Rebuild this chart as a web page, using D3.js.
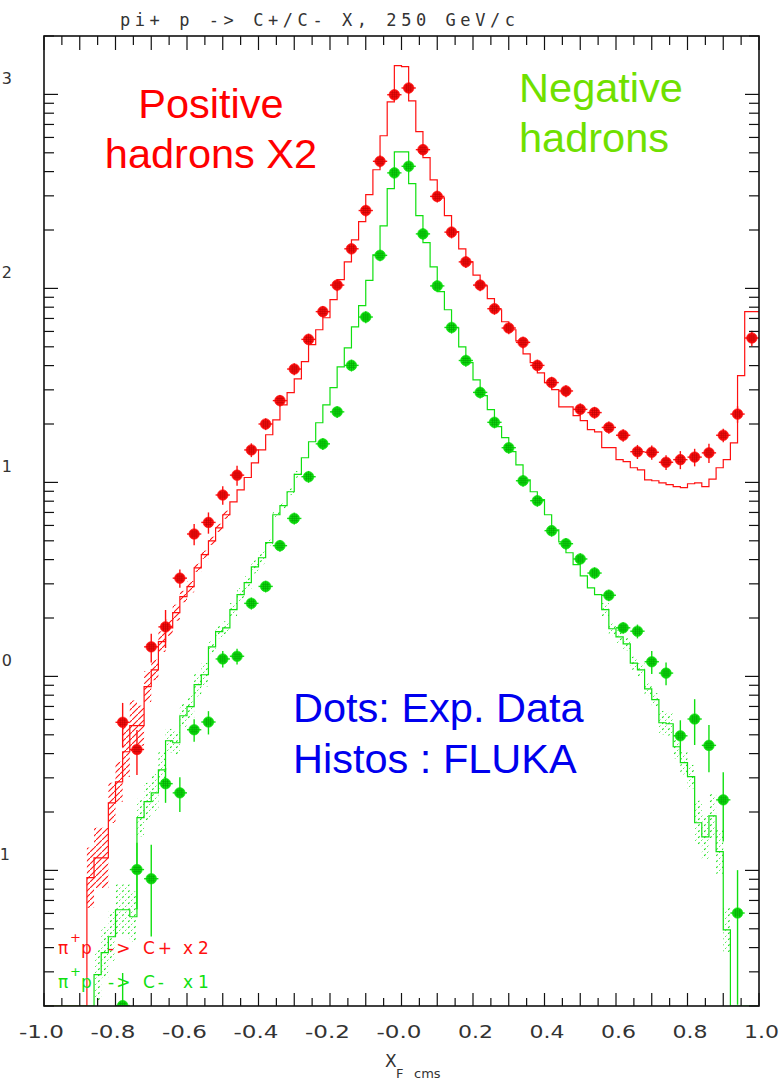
<!DOCTYPE html>
<html>
<head>
<meta charset="utf-8">
<script src="https://cdn.jsdelivr.net/npm/d3@7"></script>
<style>
  body { margin: 0; background: #fff; }
  svg { display: block; }
</style>
</head>
<body>
<svg id="chart" width="780" height="1081"></svg>
<script>
// ---- data -------------------------------------------------------------
// Feynman-x of the measured points (bin centres, 0.04 wide)
const xData = [-0.78,-0.74,-0.70,-0.66,-0.62,-0.58,-0.54,-0.50,-0.46,-0.42,-0.38,-0.34,-0.30,-0.26,-0.22,-0.18,-0.14,-0.10,-0.06,-0.02,
                0.02,0.06,0.10,0.14,0.18,0.22,0.26,0.30,0.34,0.38,0.42,0.46,0.50,0.54,0.58,0.62,0.66,0.70,0.74,0.78,0.82,0.86,0.90,0.94,0.98];

// positive hadrons (x2), measured
const posData = [0.58,0.42,1.42,1.80,3.21,5.42,6.22,8.61,10.9,14.7,20.0,26.4,38.4,54.6,75.9,104,160,252,452,996,
                 1079,519,298,195,137,104,78.6,62.5,52.7,40.1,32.7,29.6,23.8,22.9,19.2,17.5,14.4,14.3,12.7,13.1,13.5,14.2,17.5,22.5,55.5];
const posErr  = [0.15,0.11,0.24,0.40,0.35,0.68,0.78,0.95,1.3,1.2,1.4,1.8,2.7,3.8,5.3,7.3,11,18,32,70,
                 76,36,21,14,9.6,7.3,5.5,4.4,3.7,2.8,2.3,2.1,1.7,1.6,1.4,1.3,1.2,1.2,1.1,1.4,1.4,1.6,1.4,2.2,5.0];

// negative hadrons, measured
const negData = [0.0201,0.101,0.0906,0.280,0.251,0.531,0.582,1.23,1.27,2.38,2.91,4.72,6.52,10.7,15.8,23.1,40.1,71.2,148,394,
                 426,191,103,62.9,42.5,29.1,20.4,15.1,10.2,8.05,5.64,4.83,4.03,3.41,2.62,1.78,1.71,1.19,1.04,0.494,0.603,0.441,0.231,0.0603,null];
const negErr  = [0.0095,0.038,0.045,0.057,0.051,0.07,0.08,0.12,0.12,0.17,0.2,0.33,0.46,0.75,1.1,1.6,2.8,5,10,28,
                 30,13,7.2,4.4,3.0,2.0,1.4,1.06,0.71,0.56,0.39,0.34,0.28,0.24,0.18,0.12,0.14,0.16,0.14,0.10,0.16,0.12,0.09,0.04,null];

// FLUKA histograms: 100 bins of 0.02 from xF = -1 to 1
const histLow = -1.0, histBin = 0.02;
const posHisto = [0,0,0,0,0,0,0.0917,0.116,0.116,0.223,
                  0.286,0.409,0.557,0.557,0.885,1.08,1.51,1.78,2.13,2.58,
                  2.90,3.63,4.24,5.00,5.83,6.81,7.94,9.16,10.6,12.6,
                  14.7,17.6,21.0,25.1,29.0,34.2,41.9,51.3,61.2,70.6,
                  87.5,111,137,178,221,304,409,612,916,1406,
                  1390,927,643,472,363,293,237,196,160,137,
                  117,103,88.5,77.6,67.3,61.2,53.7,46.0,41.4,36.7,
                  32.7,30.1,24.5,24.5,22.1,20.8,18.7,18.2,15.1,15.1,
                  13.1,12.8,11.9,11.6,10.3,10.2,9.95,9.73,9.51,9.40,
                  9.84,9.95,9.51,10.4,11.9,13.1,16.0,35.5,75.9,75.9];
const posHistoRelErr = [0,0,0,0,0,0,0.43,0.43,0.43,0.27,
                        0.27,0.35,0.35,0.27,0.20,0.13,0.13,0.10,0.10,0.07,
                        0.07,0.05,0.05,0.05,0.05,0.05,0,0,0,0];
const negHisto = [0,0,0,0,0,0,0,0.0290,0.0377,0.0455,
                  0.0627,0.0627,0.0577,0.187,0.226,0.251,0.330,0.466,0.455,0.627,
                  0.698,0.906,1.02,1.42,1.70,1.78,2.21,2.64,3.04,3.67,
                  4.09,4.89,6.81,7.59,8.95,11.0,13.4,16.2,20.3,25.1,
                  30.8,39.4,49.4,63.4,81.5,110,149,210,327,506,
                  506,347,237,172,129,96.2,77.6,62.7,50.0,41.4,
                  33.8,28.0,23.7,19.4,17.0,14.4,12.3,10.3,8.95,8.15,
                  6.81,5.70,4.94,4.34,3.77,3.30,2.86,2.64,2.21,1.76,
                  1.60,1.47,1.17,1.08,0.863,0.759,0.577,0.570,0.434,0.359,
                  0.304,0.176,0.149,0.191,0.125,0.0494,0,0,0,0];
const negHistoRelErr = [0,0,0,0,0,0,0,0.35,0.35,0.35,
                        0.35,0.35,0.35,0.25,0.25,0.25,0.25,0.15,0.15,0.15,
                        0.15,0.15,0.15,0.08,0.08,0.08,0.08,0.08,0.08,0.08,
                        0.08,0.04,0.04,0.04,0.04,0.04,0,0,0,0,
                        0,0,0,0,0,0,0,0,0,0,
                        0,0,0,0,0,0,0,0,0,0,
                        0,0,0,0,0,0,0,0,0,0,
                        0,0,0,0,0,0,0,0,0.08,0.08,
                        0.08,0.08,0.08,0.08,0.08,0.08,0.15,0.15,0.15,0.15,
                        0.15,0.30,0.30,0.30,0.30,0.30,0,0,0,0];

// axes
const xTickValues = [-1.0,-0.8,-0.6,-0.4,-0.2,0.0,0.2,0.4,0.6,0.8,1.0];
const xTickLabels = ["-1.0","-0.8","-0.6","-0.4","-0.2","-0.0","0.2","0.4","0.6","0.8","1.0"];
const yDecades = [3,2,1,0,-1];
const yDecadeLabels = ["3","2","1","0","1"];

// ---- drawing ----------------------------------------------------------
const RED = "#ff1010", RED_DARK = "#b00000";
const GREEN = "#10e010", GREEN_DARK = "#009a00";

const box = {left: 44, right: 759, top: 36, bottom: 1006};
const yMin = 0.02, yMax = 2000;
const x = d3.scaleLinear().domain([-1, 1]).range([box.left, box.right]);
const y = d3.scaleLog().domain([yMin, yMax]).range([box.bottom, box.top]);

const svg = d3.select("#chart");
const defs = svg.append("defs");
defs.append("clipPath").attr("id", "plotClip")
  .append("rect").attr("x", box.left).attr("y", box.top)
  .attr("width", box.right - box.left).attr("height", box.bottom - box.top);

// hatch fills for the simulation uncertainty bands
const hatchRed = defs.append("pattern").attr("id", "hatchRed")
  .attr("patternUnits", "userSpaceOnUse").attr("width", 6).attr("height", 6);
hatchRed.append("path").attr("d", "M-1,7 L7,-1").attr("stroke", RED).attr("stroke-width", 1.1);
const hatchGreen = defs.append("pattern").attr("id", "hatchGreen")
  .attr("patternUnits", "userSpaceOnUse").attr("width", 6).attr("height", 6);
hatchGreen.append("path").attr("d", "M-1,7 L7,-1").attr("stroke", GREEN)
  .attr("stroke-width", 1.1).attr("stroke-dasharray", "2,2.5");

const plot = svg.append("g").attr("clip-path", "url(#plotClip)");

function drawHisto(values, relErr, color, hatchId) {
  const pts = values.map((v, i) => ({xl: histLow + i * histBin, v}));
  pts.push({xl: histLow + values.length * histBin, v: values[values.length - 1]});
  // uncertainty band
  plot.append("g").selectAll("rect")
    .data(values.map((v, i) => ({i, v, e: relErr[i] || 0})).filter(d => d.e > 0 && d.v > 0))
    .join("rect")
    .attr("x", d => x(histLow + d.i * histBin))
    .attr("width", d => x(histLow + (d.i + 1) * histBin) - x(histLow + d.i * histBin))
    .attr("y", d => y(d.v * (1 + d.e)))
    .attr("height", d => y(Math.max(d.v / (1 + d.e), yMin)) - y(d.v * (1 + d.e)))
    .attr("fill", `url(#${hatchId})`);
  const line = d3.line()
    .x(d => x(d.xl))
    .y(d => y(Math.max(d.v, yMin)))
    .curve(d3.curveStepAfter);
  plot.append("path").attr("d", line(pts))
    .attr("fill", "none").attr("stroke", color).attr("stroke-width", 1.2);
}

drawHisto(posHisto, posHistoRelErr, RED, "hatchRed");
drawHisto(negHisto, negHistoRelErr, GREEN, "hatchGreen");

function drawPoints(vals, errs, color, dark) {
  const pts = xData.map((xf, i) => ({xf, v: vals[i], e: errs[i]})).filter(d => d.v != null);
  const g = plot.append("g");
  const halfW = 0.02;
  g.selectAll("line.h").data(pts).join("line")
    .attr("x1", d => x(d.xf - halfW)).attr("x2", d => x(d.xf + halfW))
    .attr("y1", d => y(d.v)).attr("y2", d => y(d.v))
    .attr("stroke", color).attr("stroke-width", 1.4);
  g.selectAll("line.v").data(pts).join("line")
    .attr("x1", d => x(d.xf)).attr("x2", d => x(d.xf))
    .attr("y1", d => y(d.v + d.e)).attr("y2", d => y(Math.max(d.v - d.e, yMin)))
    .attr("stroke", color).attr("stroke-width", 1.4);
  const m = g.selectAll("g.m").data(pts).join("g")
    .attr("transform", d => `translate(${x(d.xf)},${y(d.v)})`);
  m.append("circle").attr("r", 5.3).attr("fill", color).attr("stroke", color).attr("stroke-width", 0.6);
  m.append("path").attr("d", "M-4,-2H4M-4,2H4M-2,-4V4M2,-4V4M-5,0H5M0,-5V5")
    .attr("stroke", dark).attr("stroke-width", 0.7).attr("opacity", 0.8);
}

drawPoints(posData, posErr, RED, RED_DARK);
drawPoints(negData, negErr, GREEN, GREEN_DARK);

// ---- frame and ticks ---------------------------------------------------
const axes = svg.append("g").attr("stroke", "#111");
axes.append("rect")
  .attr("x", box.left).attr("y", box.top)
  .attr("width", box.right - box.left).attr("height", box.bottom - box.top)
  .attr("fill", "none").attr("stroke-width", 1.6);

// x ticks (top and bottom, pointing inwards)
const xMinor = d3.range(-1, 1.0001, 0.05).map(v => Math.round(v * 100) / 100);
xMinor.forEach(v => {
  const major = Math.abs(Math.round(v * 10) - v * 10) < 1e-6;
  const xp = x(v);
  axes.append("line").attr("x1", xp).attr("x2", xp)
    .attr("y1", box.top).attr("y2", box.top + (major ? 14 : 9)).attr("stroke-width", 1.2);
  axes.append("line").attr("x1", xp).attr("x2", xp)
    .attr("y1", box.bottom).attr("y2", box.bottom - (major ? 13 : 8)).attr("stroke-width", 1.2);
});

// y ticks: decades and 2..9 subdivisions, left and right
for (let dec = -2; dec <= 3; dec++) {
  for (let k = 1; k <= 9; k++) {
    const v = k * Math.pow(10, dec);
    if (v < yMin || v > yMax) continue;
    const len = k === 1 ? 14 : 10;
    const yp = y(v);
    axes.append("line").attr("x1", box.left).attr("x2", box.left + len)
      .attr("y1", yp).attr("y2", yp).attr("stroke-width", 1.2);
    axes.append("line").attr("x1", box.right).attr("x2", box.right - len)
      .attr("y1", yp).attr("y2", yp).attr("stroke-width", 1.2);
  }
}

const axisFont = "'DejaVu Sans', sans-serif";
const labels = svg.append("g").attr("fill", "#333").attr("font-family", axisFont);

xTickValues.forEach((v, i) => {
  const s = xTickLabels[i];
  labels.append("text")
    .attr("x", x(v) + 20).attr("y", 1038)
    .attr("text-anchor", "end").attr("font-size", 17)
    .attr("textLength", s.startsWith("-") ? 45 : 35).attr("lengthAdjust", "spacingAndGlyphs")
    .text(s);
});

yDecades.forEach((d, i) => {
  labels.append("text")
    .attr("x", d < 0 ? 10 : 12).attr("y", y(Math.pow(10, d)) - 10)
    .attr("text-anchor", "end").attr("font-size", 16)
    .text(yDecadeLabels[i]);
});

// axis title X_F cms
const xt = labels.append("text").attr("x", 385).attr("y", 1067).attr("font-size", 17);
xt.append("tspan").text("X");
xt.append("tspan").attr("x", 396).attr("dy", 11).attr("font-size", 13).text("F");
xt.append("tspan").attr("x", 414).attr("font-size", 13).text("cms");

// plot title
labels.append("text")
  .attr("x", 120).attr("y", 26)
  .attr("font-family", "'DejaVu Sans Mono', monospace").attr("font-size", 17)
  .attr("textLength", 395).attr("lengthAdjust", "spacing")
  .text("pi+ p -> C+/C- X, 250 GeV/c");

// ---- annotations -------------------------------------------------------
const big = svg.append("g").attr("font-family", "'Liberation Sans', Arial, sans-serif").attr("font-size", 41.5);
big.append("text").attr("x", 211).attr("y", 118).attr("text-anchor", "middle").attr("fill", "#ff0000").text("Positive");
big.append("text").attr("x", 211).attr("y", 168).attr("text-anchor", "middle").attr("fill", "#ff0000").text("hadrons X2");
big.append("text").attr("x", 601).attr("y", 102).attr("text-anchor", "middle").attr("fill", "#6fe000").text("Negative");
big.append("text").attr("x", 594).attr("y", 152).attr("text-anchor", "middle").attr("fill", "#6fe000").text("hadrons");
big.append("text").attr("x", 293).attr("y", 722).attr("fill", "#0000ee").text("Dots: Exp. Data");
big.append("text").attr("x", 293).attr("y", 773).attr("fill", "#0000ee").text("Histos : FLUKA");

// legend lines
function legendLine(yBase, color, tail1, tail2) {
  const g = svg.append("g").attr("fill", color)
    .attr("font-family", "'DejaVu Sans', sans-serif").attr("font-size", 17);
  g.append("text").attr("x", 58).attr("y", yBase).text("\u03c0");
  g.append("text").attr("x", 70).attr("y", yBase - 12).attr("font-size", 13).text("+");
  g.append("text").attr("x", 81).attr("y", yBase).text("p");
  g.append("text").attr("x", 108).attr("y", yBase).attr("letter-spacing", 2).text("->");
  g.append("text").attr("x", 143).attr("y", yBase).attr("letter-spacing", 3).text(tail1);
  g.append("text").attr("x", 183).attr("y", yBase).attr("letter-spacing", 5).text(tail2);
}
legendLine(954, RED, "C+", "x2");
legendLine(988, GREEN, "C-", "x1");
</script>
</body>
</html>
